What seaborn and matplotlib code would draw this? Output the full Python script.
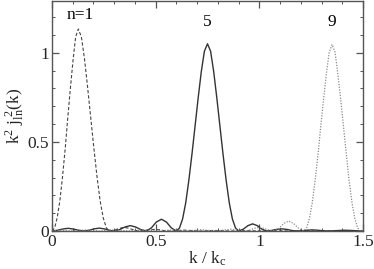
import matplotlib
matplotlib.use("Agg")
import matplotlib.pyplot as plt
import seaborn as sns
import pandas as pd
from matplotlib.ticker import MultipleLocator

# n = 5 (solid)
k5 = [0.0, 0.026, 0.052, 0.078, 0.103, 0.129, 0.155,
      0.179, 0.203, 0.228, 0.252, 0.276, 0.30,
      0.326, 0.352, 0.378, 0.403, 0.429, 0.455,
      0.479, 0.503, 0.528, 0.552, 0.576, 0.60,
      0.615, 0.63, 0.645, 0.66, 0.675, 0.69, 0.705, 0.72, 0.735, 0.75,
      0.765, 0.78, 0.795, 0.81, 0.825, 0.84, 0.855, 0.87, 0.885, 0.90,
      0.9225, 0.945, 0.9675, 0.99, 1.0125, 1.035,
      1.059, 1.083, 1.108, 1.132, 1.156, 1.18,
      1.205, 1.23, 1.255, 1.28, 1.305, 1.33,
      1.358, 1.387, 1.415, 1.443, 1.472, 1.5]
y5 = [0.0, 0.004, 0.011, 0.015, 0.011, 0.004, 0.0,
      0.004, 0.012, 0.016, 0.012, 0.004, 0.0,
      0.0075, 0.0225, 0.03, 0.0225, 0.0075, 0.0,
      0.017, 0.05, 0.066, 0.05, 0.017, 0.0,
      0.017, 0.068, 0.158, 0.284, 0.43, 0.588, 0.746, 0.893, 1.008, 1.05,
      1.008, 0.893, 0.746, 0.588, 0.43, 0.284, 0.158, 0.068, 0.017, 0.0,
      0.01, 0.03, 0.04, 0.03, 0.01, 0.0,
      0.003, 0.009, 0.012, 0.009, 0.003, 0.0,
      0.0015, 0.0045, 0.006, 0.0045, 0.0015, 0.0,
      0.001, 0.003, 0.004, 0.003, 0.001, 0.0]

# n = 1 (dashed)
k1 = [0.0, 0.013, 0.025, 0.038, 0.051, 0.064, 0.076, 0.089, 0.102, 0.114, 0.127,
      0.142, 0.157, 0.172, 0.187, 0.202, 0.217, 0.232, 0.247, 0.262, 0.277,
      0.301, 0.325, 0.349, 0.372, 0.396, 0.42,
      0.444, 0.468, 0.493, 0.517, 0.541, 0.565,
      0.637, 0.71, 0.782, 0.855, 0.927, 1.0,
      1.072, 1.145, 1.217, 1.29, 1.362, 1.435, 1.5]
y1 = [0.0, 0.018, 0.074, 0.170, 0.306, 0.465, 0.634, 0.804, 0.963, 1.088, 1.133,
      1.088, 0.963, 0.804, 0.634, 0.465, 0.306, 0.170, 0.074, 0.018, 0.0,
      0.005, 0.015, 0.02, 0.015, 0.005, 0.0,
      0.0022, 0.0068, 0.009, 0.0068, 0.0022, 0.0,
      0.005, 0.0, 0.003, 0.0, 0.002, 0.0,
      0.0015, 0.0, 0.001, 0.0, 0.001, 0.0, 0.0005]

# n = 9 (dotted)
k9 = [0.0, 0.045, 0.09, 0.16, 0.23, 0.30, 0.37, 0.44, 0.51, 0.58, 0.65,
      0.72, 0.79, 0.86, 0.93,
      0.953, 0.977, 1.0, 1.023, 1.047, 1.07,
      1.094, 1.118, 1.142, 1.166, 1.19, 1.214,
      1.228, 1.241, 1.255, 1.269, 1.283, 1.296, 1.310, 1.324, 1.337, 1.351,
      1.365, 1.378, 1.392, 1.406, 1.420, 1.433, 1.447, 1.461, 1.474, 1.488, 1.5]
y9 = [0.0, 0.004, 0.0, 0.006, 0.0, 0.006, 0.0, 0.005, 0.0, 0.006, 0.0,
      0.007, 0.0, 0.01, 0.0,
      0.005, 0.015, 0.02, 0.015, 0.005, 0.0,
      0.014, 0.042, 0.056, 0.042, 0.014, 0.0,
      0.017, 0.068, 0.157, 0.282, 0.428, 0.585, 0.742, 0.888, 1.003, 1.045,
      1.003, 0.888, 0.742, 0.585, 0.428, 0.282, 0.157, 0.068, 0.017, 0.0, 0.001]

labels = ["n=1", "5", "9"]
label_x = [0.135, 0.747, 1.348]
label_y = [1.21, 1.17, 1.17]

sns.set_style("ticks")
plt.rcParams["font.family"] = "serif"
plt.rcParams["font.serif"] = ["Liberation Serif"]
plt.rcParams["mathtext.fontset"] = "custom"
plt.rcParams["mathtext.rm"] = "Liberation Serif"
plt.rcParams["mathtext.it"] = "Liberation Serif"

fig = plt.figure(figsize=(3.74, 2.69), dpi=100)
ax = fig.add_axes([0.139, 0.1413, 0.8316, 0.855])

sns.lineplot(data=pd.DataFrame({"k": k1, "y": y1}), x="k", y="y", ax=ax,
             color="#444444", lw=0.8, linestyle=(0, (3, 1.8)))
sns.lineplot(data=pd.DataFrame({"k": k5, "y": y5}), x="k", y="y", ax=ax,
             color="#333333", lw=1.0, linestyle="-")
sns.lineplot(data=pd.DataFrame({"k": k9, "y": y9}), x="k", y="y", ax=ax,
             color="#8a8a8a", lw=0.9, linestyle=(0, (1, 1.2)))

for t, xx, yy in zip(labels, label_x, label_y):
    ax.text(xx, yy, t, ha="center", va="center", fontsize=12.5, color="black")

ax.set_xlim(0, 1.5)
ax.set_ylim(0, 1.29)
ax.xaxis.set_minor_locator(MultipleLocator(0.1))
ax.yaxis.set_minor_locator(MultipleLocator(0.1))
ax.set_xticks([0, 0.5, 1, 1.5])
ax.set_xticklabels(["0", "0.5", "1", "1.5"])
ax.set_yticks([0, 0.5, 1])
ax.set_yticklabels(["0", "0.5", "1"])
ax.tick_params(which="both", direction="in", top=True, right=True,
               labelsize=12.5, color="#555555", pad=2)
ax.tick_params(which="major", length=5, width=0.9)
ax.tick_params(which="minor", length=2.5, width=0.7)
for s in ax.spines.values():
    s.set_color("#555555")
    s.set_linewidth(1.0)

ax.set_xlabel(r"$\mathregular{k\ /\ k_c}$", fontsize=12.5, labelpad=0)
ax.set_ylabel(r"$\mathregular{k^2\ j_{ln}^{\ 2}(k)}$", fontsize=12.5, labelpad=1)

fig.savefig("out.png", dpi=100)
